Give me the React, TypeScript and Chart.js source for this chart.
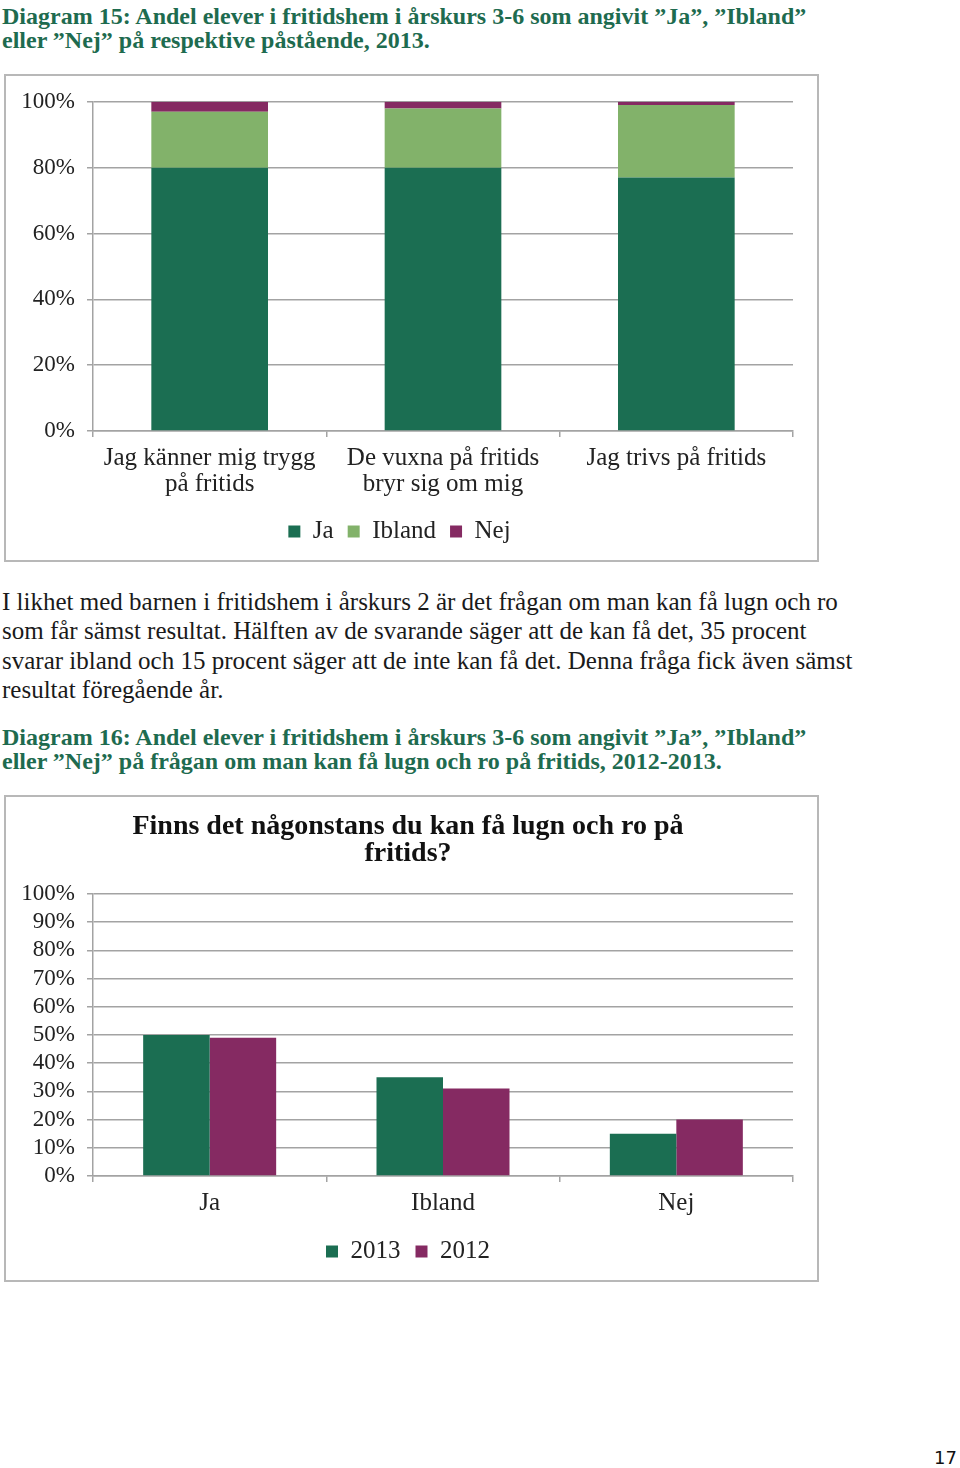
import React, { useEffect, useRef } from "react";
import { Chart, registerables } from "chart.js";

Chart.register(...registerables);

// ---------- Data ----------
const statements: (string | string[])[] = [
  ["Jag känner mig trygg", "på fritids"],
  ["De vuxna på fritids", "bryr sig om mig"],
  "Jag trivs på fritids",
];
const jaValues = [80, 80, 77];
const iblandValues = [17, 18, 22];
const nejValues = [3, 2, 1];

const answers = ["Ja", "Ibland", "Nej"];
const values2013 = [50, 35, 15];
const values2012 = [49, 31, 20];

const chart2Title = ["Finns det någonstans du kan få lugn och ro på", "fritids?"];

// ---------- Styles ----------
const SERIF = "'Liberation Serif', 'DejaVu Serif', serif";
const DARK_GREEN = "#1b6e52";
const LIGHT_GREEN = "#82b26a";
const PURPLE = "#852a62";
const GRID = "#a3a3a3";
const TEXT = "#222222";
const HEAD = "#1e6b4f";

function baseScales(step: number, yWidth: number) {
  return {
    x: {
      stacked: false,
      grid: {
        offset: true,
        drawOnChartArea: false,
        drawTicks: true,
        tickLength: 6,
        color: GRID,
        lineWidth: 1.5,
      },
      border: { color: GRID, width: 1.5 },
      ticks: {
        color: TEXT,
        padding: 8,
        maxRotation: 0,
        autoSkip: false,
        font: { family: SERIF, size: 25, lineHeight: 1.04 },
      },
    },
    y: {
      min: 0,
      max: 100,
      ticks: {
        stepSize: step,
        autoSkip: false,
        color: TEXT,
        padding: 12,
        font: { family: SERIF, size: 23 },
        callback: (v: any) => v + "%",
      },
      grid: { color: GRID, lineWidth: 1.5, tickLength: 6 },
      border: { color: GRID, width: 1.5 },
      afterFit: (scale: any) => {
        scale.width = yWidth;
      },
    },
  };
}

const legendLabels = (pad: number) => ({
  boxWidth: 12,
  boxHeight: 12,
  padding: pad,
  color: TEXT,
  font: { family: SERIF, size: 25 },
});

function StackedChart() {
  const ref = useRef<HTMLCanvasElement>(null);
  useEffect(() => {
    const scales: any = baseScales(20, 87);
    scales.x.stacked = true;
    scales.y.stacked = true;
    const chart = new Chart(ref.current!, {
      type: "bar",
      data: {
        labels: statements as any,
        datasets: [
          { label: "Ja", data: jaValues, backgroundColor: DARK_GREEN },
          { label: "Ibland", data: iblandValues, backgroundColor: LIGHT_GREEN },
          { label: "Nej", data: nejValues, backgroundColor: PURPLE },
        ],
      },
      options: {
        responsive: false,
        animation: false,
        layout: { padding: { top: 21, right: 24, left: 0, bottom: 6 } },
        datasets: { bar: { barPercentage: 0.5, categoryPercentage: 1 } } as any,
        scales,
        plugins: {
          tooltip: { enabled: false },
          legend: { position: "bottom", labels: legendLabels(14) },
        },
      },
    });
    return () => chart.destroy();
  }, []);
  return <canvas ref={ref} width={811} height={484} />;
}

function GroupedChart() {
  const ref = useRef<HTMLCanvasElement>(null);
  useEffect(() => {
    const scales: any = baseScales(10, 70);
    const chart = new Chart(ref.current!, {
      type: "bar",
      data: {
        labels: answers,
        datasets: [
          { label: "2013", data: values2013, backgroundColor: DARK_GREEN },
          { label: "2012", data: values2012, backgroundColor: PURPLE },
        ],
      },
      options: {
        responsive: false,
        animation: false,
        layout: { padding: { top: 0, right: 24, left: 17, bottom: 6 } },
        datasets: { bar: { barPercentage: 1, categoryPercentage: 0.57 } } as any,
        scales,
        plugins: {
          tooltip: { enabled: false },
          title: {
            display: true,
            text: chart2Title,
            color: "#111",
            font: { family: SERIF, size: 28, weight: "bold", lineHeight: 0.965 },
            padding: { top: 16, bottom: 27 },
          },
          legend: { position: "bottom", labels: legendLabels(15) },
        },
      },
    });
    return () => chart.destroy();
  }, []);
  return <canvas ref={ref} width={811} height={483} />;
}

const abs = (left: number, top: number, extra: React.CSSProperties = {}): React.CSSProperties => ({
  position: "absolute",
  left,
  top,
  ...extra,
});

export default function App() {
  const headStyle: React.CSSProperties = {
    fontFamily: SERIF,
    fontWeight: "bold",
    fontSize: 24,
    lineHeight: "24px",
    color: HEAD,
    whiteSpace: "nowrap",
  };
  const bodyStyle: React.CSSProperties = {
    fontFamily: SERIF,
    fontSize: 25,
    lineHeight: "29.3px",
    color: "#1a1a1a",
    whiteSpace: "nowrap",
  };
  const frame: React.CSSProperties = {
    border: "2px solid #b8b8b8",
    boxSizing: "border-box",
    width: 815,
    background: "#fff",
  };
  return (
    <div style={{ position: "relative", width: 960, height: 1468, background: "#fff" }}>
      <style>{"body{margin:0}"}</style>
      <div style={abs(2, 4, headStyle)}>
        Diagram 15: Andel elever i fritidshem i årskurs 3-6 som angivit ”Ja”, ”Ibland”
        <br />
        eller ”Nej” på respektive påstående, 2013.
      </div>
      <div style={abs(4, 74, { ...frame, height: 488 })}>
        <StackedChart />
      </div>
      <div style={abs(2, 587, bodyStyle)}>
        I likhet med barnen i fritidshem i årskurs 2 är det frågan om man kan få lugn och ro
        <br />
        som får sämst resultat. Hälften av de svarande säger att de kan få det, 35 procent
        <br />
        svarar ibland och 15 procent säger att de inte kan få det. Denna fråga fick även sämst
        <br />
        resultat föregående år.
      </div>
      <div style={abs(2, 725, headStyle)}>
        Diagram 16: Andel elever i fritidshem i årskurs 3-6 som angivit ”Ja”, ”Ibland”
        <br />
        eller ”Nej” på frågan om man kan få lugn och ro på fritids, 2012-2013.
      </div>
      <div style={abs(4, 795, { ...frame, height: 487 })}>
        <GroupedChart />
      </div>
      <div
        style={abs(934, 1447, {
          fontFamily: "'DejaVu Sans', sans-serif",
          fontSize: 18,
          lineHeight: "22px",
          color: "#111",
        })}
      >
        17
      </div>
    </div>
  );
}
